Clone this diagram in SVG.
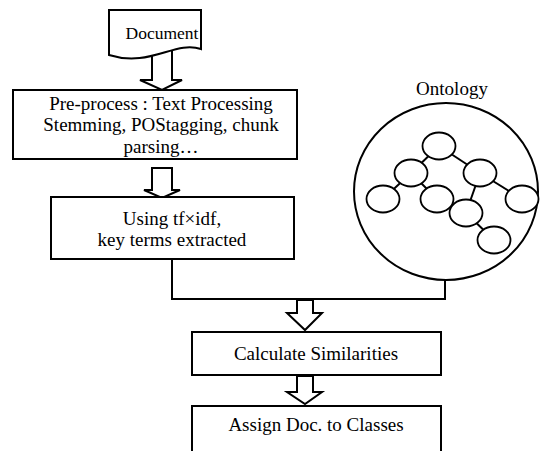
<svg xmlns="http://www.w3.org/2000/svg" width="557" height="451" viewBox="0 0 557 451">
<style>
.box{fill:#fff;stroke:#000;stroke-width:2}
.arr{fill:#fff;stroke:#000;stroke-width:2;stroke-linejoin:miter}
.ln{fill:none;stroke:#000;stroke-width:2}
.n{fill:#fff;stroke:#000;stroke-width:1.8}
text{font-family:"Liberation Serif","Times New Roman",serif;font-size:19px;fill:#000;text-anchor:middle}
</style>
<rect width="557" height="451" fill="#fff"/>
<g id="connectors">
<polyline class="ln" points="172,259 172,299 445,299 445,280"/>
<polygon class="arr" points="152,50 172,50 172,80 182,80 162,90 140,80 152,80"/>
<polygon class="arr" points="152,168 172,168 172,190 180,190 162,198 144,190 152,190"/>
<polygon class="arr" points="297,300 313,300 313,313 322,313 305,330 287,313 297,313"/>
<polygon class="arr" points="297,376 313,376 313,392 322,392 305,404 287,392 297,392"/>
</g>
<g id="document">
<path class="box" d="M109,10 H201 V49 C175,40 150,68 109,55 Z"/>
<text x="162" y="39" style="font-size:17.5px">Document</text>
</g>
<g id="preprocess">
<rect class="box" x="13" y="90" width="284" height="69"/>
<text x="161" y="110">Pre-process : Text Processing</text>
<text x="161" y="131">Stemming, POStagging, chunk</text>
<text x="161" y="153">parsing…</text>
</g>
<g id="keyterms">
<rect class="box" x="51" y="197" width="243" height="62"/>
<text x="172" y="225">Using tf×idf,</text>
<text x="172" y="246">key terms extracted</text>
</g>
<g id="ontology">
<text x="452" y="95">Ontology</text>
<ellipse class="ln" cx="446" cy="191.5" rx="92" ry="88.5"/>
<g class="ln">
<line x1="439" y1="146" x2="411" y2="173"/>
<line x1="439" y1="146" x2="480" y2="173"/>
<line x1="411" y1="173" x2="383" y2="199"/>
<line x1="411" y1="173" x2="437" y2="199"/>
<line x1="480" y1="173" x2="522" y2="199"/>
<line x1="480" y1="173" x2="466" y2="213"/>
<line x1="466" y1="213" x2="494" y2="240"/>
</g>
<ellipse class="n" cx="439" cy="146" rx="16.5" ry="13.5"/>
<ellipse class="n" cx="411" cy="173" rx="16.5" ry="13.5"/>
<ellipse class="n" cx="480" cy="173" rx="16.5" ry="13.5"/>
<ellipse class="n" cx="383" cy="199" rx="16.5" ry="13.5"/>
<ellipse class="n" cx="437" cy="199" rx="16.5" ry="13.5"/>
<ellipse class="n" cx="522" cy="199" rx="16.5" ry="13.5"/>
<ellipse class="n" cx="466" cy="213" rx="16.5" ry="13.5"/>
<ellipse class="n" cx="494" cy="240" rx="16.5" ry="13.5"/>
</g>
<g id="similarities">
<rect class="box" x="192" y="332" width="249" height="43"/>
<text x="316" y="360">Calculate Similarities</text>
</g>
<g id="assign">
<rect class="box" x="192" y="406" width="249" height="60"/>
<text x="316" y="431">Assign Doc. to Classes</text>
</g>
</svg>
